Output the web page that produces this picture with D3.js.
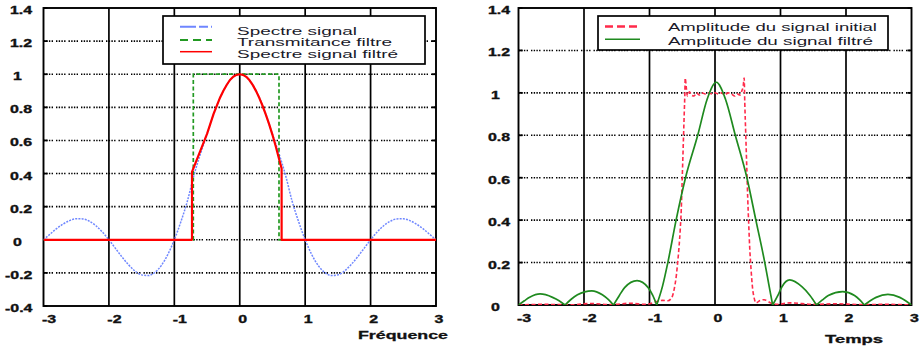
<!DOCTYPE html>
<html>
<head>
<meta charset="utf-8">
<script src="https://cdn.jsdelivr.net/npm/d3@7"></script>
<style>
  body { margin: 0; background: #fff; }
  svg { display: block; }
</style>
</head>
<body>
<div id="chart"></div>
<script>
// ---- left panel : spectra vs frequency ----
const freq = [-3, -2.9, -2.8, -2.7, -2.6, -2.5, -2.4, -2.3, -2.2, -2.1, -2, -1.9, -1.8, -1.7, -1.6, -1.5, -1.4, -1.3, -1.2, -1.1, -1,
  -0.9, -0.8, -0.7, -0.6, -0.5, -0.4, -0.3, -0.2, -0.1, 0, 0.1, 0.2, 0.3, 0.4, 0.5, 0.6, 0.7, 0.8, 0.9, 1,
  1.1, 1.2, 1.3, 1.4, 1.5, 1.6, 1.7, 1.8, 1.9, 2, 2.1, 2.2, 2.3, 2.4, 2.5, 2.6, 2.7, 2.8, 2.9, 3];
const spectreSignal = [0, 0.034, 0.067, 0.095, 0.116, 0.127, 0.126, 0.112, 0.085, 0.047, 0,
  -0.052, -0.104, -0.151, -0.189, -0.212, -0.216, -0.198, -0.156, -0.089, 0,
  0.109, 0.234, 0.39, 0.52, 0.637, 0.757, 0.858, 0.935, 0.984, 1,
  0.984, 0.935, 0.858, 0.757, 0.637, 0.52, 0.39, 0.234, 0.109, 0,
  -0.089, -0.156, -0.198, -0.216, -0.212, -0.189, -0.151, -0.104, -0.052, 0,
  0.047, 0.085, 0.112, 0.126, 0.127, 0.116, 0.095, 0.067, 0.034, 0];

const filtreFreq = [-3, -0.71, -0.71, 0.6, 0.6, 3];
const transmitance = [0, 0, 1, 1, 0, 0];

const filtreeFreq = [-3, -0.73, -0.73, -0.7, -0.65, -0.6, -0.55, -0.5, -0.45, -0.4, -0.35, -0.3, -0.25, -0.2, -0.15, -0.1, -0.05, 0,
  0.05, 0.1, 0.15, 0.2, 0.25, 0.3, 0.35, 0.4, 0.45, 0.5, 0.55, 0.6, 0.64, 0.64, 3];
const spectreFiltre = [0, 0, 0.41, 0.44, 0.49, 0.54, 0.59, 0.64, 0.70, 0.76, 0.81, 0.86, 0.90, 0.935, 0.965, 0.985, 0.996, 1,
  0.996, 0.984, 0.963, 0.934, 0.898, 0.856, 0.808, 0.755, 0.697, 0.634, 0.565, 0.49, 0.43, 0, 0];

// ---- right panel : amplitudes vs time ----
const tempsInitial = [-3, -2.6, -2.2, -1.9, -1.6, -1.3, -1.05, -0.9, -0.8, -0.72, -0.66, -0.62, -0.59, -0.57, -0.55, -0.53, -0.515,
  -0.5, -0.485, -0.47, -0.46, -0.455, -0.44, -0.42, -0.39, -0.36, -0.32, -0.28, -0.24, -0.2, -0.15, -0.1, -0.05, 0,
  0.05, 0.1, 0.15, 0.2, 0.25, 0.3, 0.34, 0.38, 0.41, 0.43, 0.445, 0.455, 0.47, 0.485, 0.5, 0.515, 0.53, 0.55, 0.57,
  0.6, 0.63, 0.68, 0.75, 0.85, 0.95, 1.15, 1.5, 1.85, 2.2, 2.6, 3];
const ampInitial = [0, 0.003, 0.001, 0.007, 0.002, 0.008, 0.003, 0.015, 0.022, 0.02, 0.035, 0.08, 0.14, 0.2, 0.27, 0.36, 0.45,
  0.6, 0.75, 0.9, 1.0, 1.07, 1.03, 0.985, 1.005, 0.99, 0.985, 1.0, 0.99, 1.0, 0.995, 1.0, 0.995, 1.0,
  0.995, 1.0, 0.99, 1.0, 0.995, 0.985, 0.995, 0.99, 1.01, 1.03, 1.07, 0.95, 0.8, 0.65, 0.5, 0.38, 0.27, 0.17, 0.09,
  0.03, 0.01, 0.02, 0.025, 0.01, 0.003, 0.01, 0.003, 0.006, 0.002, 0.003, 0];

const tempsFiltre = [-3, -2.91, -2.83, -2.67, -2.48, -2.38, -2.29, -2.2, -2.1, -1.88, -1.72, -1.63, -1.55,
  -1.46, -1.38, -1.19, -1.02, -0.95, -0.89, -0.8, -0.72, -0.594, -0.45, -0.264, -0.12, 0.02, 0.16, 0.31,
  0.487, 0.624, 0.76, 0.82, 0.88, 0.96, 1.02, 1.14, 1.33, 1.45, 1.55, 1.64, 1.73, 1.95, 2.13, 2.21, 2.28,
  2.37, 2.46, 2.64, 2.82, 2.91, 3];
const ampFiltre = [0, 0.02, 0.036, 0.052, 0.036, 0.02, 0, 0.026, 0.048, 0.067, 0.048, 0.026, 0,
  0.045, 0.082, 0.115, 0.082, 0.045, 0, 0.09, 0.2, 0.4, 0.6, 0.8, 0.97, 1.05, 0.97, 0.8,
  0.6, 0.4, 0.2, 0.1, 0, 0.045, 0.085, 0.118, 0.085, 0.045, 0, 0.024, 0.045, 0.063, 0.045, 0.024, 0,
  0.02, 0.036, 0.05, 0.036, 0.02, 0];

const xTicks = [-3, -2, -1, 0, 1, 2, 3];
const yTicksLeft = [-0.4, -0.2, 0, 0.2, 0.4, 0.6, 0.8, 1, 1.2, 1.4];
const yTicksRight = [0, 0.2, 0.4, 0.6, 0.8, 1, 1.2, 1.4];

const W = 921, H = 349;
const svg = d3.select("#chart").append("svg")
  .attr("width", W).attr("height", H)
  .style("font-family", "'Liberation Sans', Arial, sans-serif");

const stretch = 1.45; // the picture is stretched horizontally

function zip(xs, ys) { return xs.map((x, i) => [x, ys[i]]); }

// split a curve into its lobes at the zero points, so cusps stay sharp
function lobes(pts) {
  let out = [], cur = [];
  pts.forEach(p => {
    cur.push(p);
    if (p[1] === 0 && cur.length > 1) { out.push(cur); cur = [p]; }
  });
  if (cur.length > 1) out.push(cur);
  return out;
}

function panel(opt) {
  let x = d3.scaleLinear().domain([-3, 3]).range(opt.xr);
  let y = d3.scaleLinear().domain(opt.yd).range(opt.yr);
  let g = svg.append("g");

  let clipId = "clip" + opt.id;
  svg.append("clipPath").attr("id", clipId).append("rect")
    .attr("x", opt.xr[0]).attr("y", opt.yr[1])
    .attr("width", opt.xr[1] - opt.xr[0]).attr("height", opt.yr[0] - opt.yr[1]);

  // dotted horizontal grid
  g.selectAll("line.hgrid")
    .data(opt.yt.filter(d => d > opt.yd[0] && d < opt.yd[1]))
    .enter().append("line")
    .attr("class", "hgrid")
    .attr("x1", opt.xr[0]).attr("x2", opt.xr[1])
    .attr("y1", d => y(d)).attr("y2", d => y(d))
    .attr("stroke", "#000").attr("stroke-width", 1.6)
    .attr("stroke-dasharray", "1.4,1.3,1.4,1.3,1.4,1.3,1.4,3");

  // solid vertical grid
  g.selectAll("line.vgrid")
    .data(xTicks.slice(1, -1))
    .enter().append("line")
    .attr("class", "vgrid")
    .attr("x1", d => x(d)).attr("x2", d => x(d))
    .attr("y1", opt.yr[0]).attr("y2", opt.yr[1])
    .attr("stroke", "#000").attr("stroke-width", 1.7);

  // small ticks on left and right
  opt.yt.forEach(d => {
    g.append("line").attr("x1", opt.xr[0]).attr("x2", opt.xr[0] + 4)
      .attr("y1", y(d)).attr("y2", y(d)).attr("stroke", "#000").attr("stroke-width", 1.8);
    g.append("line").attr("x1", opt.xr[1] - 4).attr("x2", opt.xr[1])
      .attr("y1", y(d)).attr("y2", y(d)).attr("stroke", "#000").attr("stroke-width", 1.8);
  });

  // frame
  g.append("rect")
    .attr("x", opt.xr[0]).attr("y", opt.yr[1])
    .attr("width", opt.xr[1] - opt.xr[0]).attr("height", opt.yr[0] - opt.yr[1])
    .attr("fill", "none").attr("stroke", "#000").attr("stroke-width", 1.9);

  // x tick labels
  g.selectAll("text.xt")
    .data(xTicks)
    .enter().append("text")
    .attr("class", "xt")
    .attr("transform", d => "translate(" + (x(d) + (d < 0 ? 5.5 : 3)) + "," + opt.xLabelY + ") scale(" + stretch + ",1)")
    .attr("text-anchor", "middle")
    .attr("font-size", 11).attr("font-weight", "bold").attr("fill", "#111")
    .attr("stroke", "#111").attr("stroke-width", 0.35)
    .text(d => d);

  // y tick labels
  g.selectAll("text.yt")
    .data(opt.yt)
    .enter().append("text")
    .attr("class", "yt")
    .attr("transform", d => "translate(" + (d < 0 ? opt.yLabelX - 5 : (Number.isInteger(d) ? opt.yLabelX + 3 : opt.yLabelX)) + "," + (y(d) + 6) + ") scale(" + stretch + ",1)")
    .attr("font-size", 11).attr("font-weight", "bold").attr("fill", "#111")
    .attr("stroke", "#111").attr("stroke-width", 0.35)
    .text(d => d);

  // axis title
  g.append("text")
    .attr("x", opt.title.x).attr("y", opt.title.y)
    .attr("font-size", 11).attr("font-weight", "bold").attr("fill", "#111")
    .attr("stroke", "#111").attr("stroke-width", 0.3)
    .attr("textLength", opt.title.w).attr("lengthAdjust", "spacingAndGlyphs")
    .text(opt.title.text);

  let curves = svg.append("g").attr("clip-path", "url(#" + clipId + ")");
  return {x: x, y: y, curves: curves};
}

// ---------- left ----------
let L = panel({
  id: "L", xr: [43.5, 436], yd: [-0.4, 1.4], yr: [306, 8], yt: yTicksLeft,
  xLabelY: 323, yLabelX: 10,
  title: {x: 358, y: 339, w: 90, text: "Fréquence"}
});

let lineL = d3.line().x(d => L.x(d[0])).y(d => L.y(d[1]));

L.curves.append("path")
  .attr("d", lineL.curve(d3.curveMonotoneX)(zip(freq, spectreSignal)))
  .attr("fill", "none").attr("stroke", "#7088ff").attr("stroke-width", 1.5)
  .attr("stroke-dasharray", "2,1.2");

L.curves.append("path")
  .attr("d", lineL.curve(d3.curveLinear)(zip(filtreFreq, transmitance)))
  .attr("fill", "none").attr("stroke", "#229922").attr("stroke-width", 1.7)
  .attr("stroke-dasharray", "4,2.5");

L.curves.append("path")
  .attr("d", lineL.curve(d3.curveLinear)(zip(filtreeFreq, spectreFiltre)))
  .attr("fill", "none").attr("stroke", "#ff0000").attr("stroke-width", 2.2)
  .attr("stroke-linejoin", "round");

// ---------- right ----------
let R = panel({
  id: "R", xr: [518.5, 911.5], yd: [0, 1.4], yr: [305, 8], yt: yTicksRight,
  xLabelY: 322, yLabelX: 488,
  title: {x: 825, y: 343, w: 58, text: "Temps"}
});

let lineR = d3.line().x(d => R.x(d[0])).y(d => R.y(d[1])).curve(d3.curveMonotoneX);

R.curves.append("path")
  .attr("d", lineR(zip(tempsInitial, ampInitial)))
  .attr("fill", "none").attr("stroke", "#ff2a4a").attr("stroke-width", 1.6)
  .attr("stroke-dasharray", "4,2.5");

R.curves.selectAll("path.lobe")
  .data(lobes(zip(tempsFiltre, ampFiltre)))
  .enter().append("path")
  .attr("class", "lobe")
  .attr("d", d => lineR(d))
  .attr("fill", "none").attr("stroke", "#1f8a1f").attr("stroke-width", 1.7);

// ---------- legends ----------
function legend(box, rows) {
  let g = svg.append("g");
  g.append("rect").attr("x", box.x).attr("y", box.y).attr("width", box.w).attr("height", box.h)
    .attr("fill", "#fff").attr("stroke", "#000").attr("stroke-width", 1.7);
  rows.forEach(r => {
    g.append("line").attr("x1", box.lx1).attr("x2", box.lx2).attr("y1", r.ly).attr("y2", r.ly)
      .attr("stroke", r.color).attr("stroke-width", r.sw).attr("stroke-dasharray", r.dash);
    g.append("text").attr("x", box.tx).attr("y", r.ty)
      .attr("font-size", 11.5).attr("fill", "#1a1a2a")
      .attr("textLength", r.w).attr("lengthAdjust", "spacingAndGlyphs")
      .text(r.text);
  });
}

legend({x: 163, y: 16, w: 262, h: 48, lx1: 180, lx2: 212, tx: 237}, [
  {text: "Spectre signal", w: 120, ty: 34.5, ly: 26.7, color: "#6f86ff", sw: 2, dash: "16,3,9,3,2,2"},
  {text: "Transmitance filtre", w: 155, ty: 46, ly: 40, color: "#229922", sw: 2, dash: "8,5"},
  {text: "Spectre signal filtré", w: 161, ty: 58, ly: 51.7, color: "#ff0000", sw: 1.5, dash: null}
]);

legend({x: 598, y: 16, w: 290, h: 34, lx1: 605, lx2: 640, tx: 668}, [
  {text: "Amplitude du signal initial", w: 209, ty: 31, ly: 26.5, color: "#ff2a4a", sw: 2.5, dash: "8,4"},
  {text: "Amplitude du signal filtré", w: 205, ty: 44.5, ly: 39.3, color: "#1f8a1f", sw: 1.5, dash: null}
]);
</script>
</body>
</html>
